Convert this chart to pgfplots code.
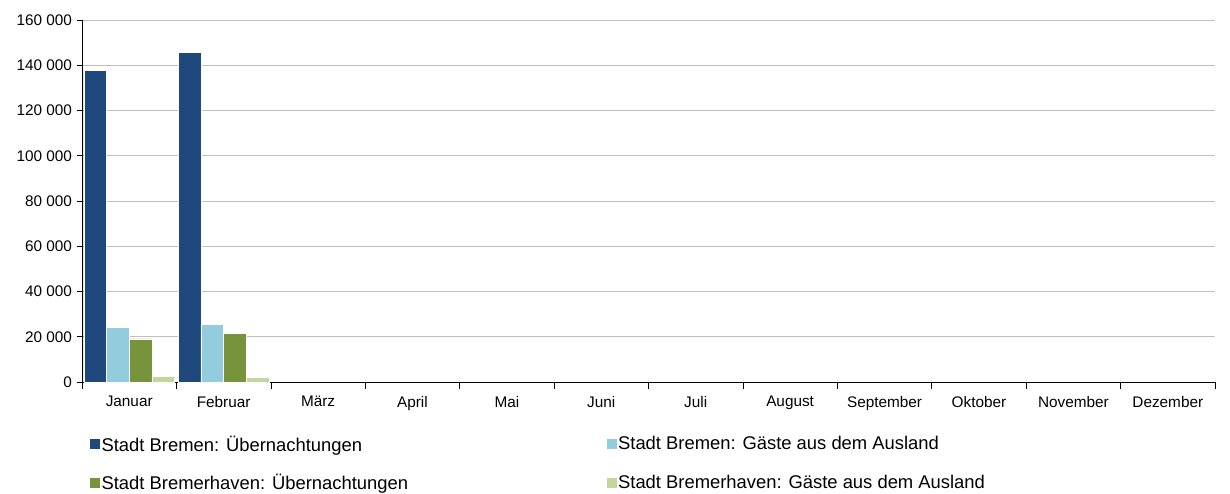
\documentclass[border=0pt]{standalone}
\usepackage{pgfplots}
\pgfplotsset{compat=1.18}
\usepackage{fontspec}
\setmainfont{Liberation Sans}
\definecolor{c1}{HTML}{1F497D}
\definecolor{c2}{HTML}{93CDDD}
\definecolor{c3}{HTML}{77933C}
\definecolor{c4}{HTML}{C3D69B}
\begin{document}
\begin{tikzpicture}
\begin{axis}[name=ax,
  scale only axis, width=849.75pt, height=271.5pt,
  ybar=0pt, bar width=17pt,
  xmin=-0.5, xmax=11.5, ymin=0, ymax=160000,
  scaled y ticks=false,
  xtick={0,...,11},
  xticklabels={Januar,Februar,März,April,Mai,Juni,Juli,August,September,Oktober,November,Dezember},
  major x tick style={draw=none},
  minor xtick={-0.5,0.5,...,11.5},
  minor tick length=5pt,
  ytick={0,20000,...,160000},
  yticklabels={0,20 000,40 000,60 000,80 000,100 000,120 000,140 000,160 000},
  major tick length=4pt,
  tick align=outside,
  tick style={black, thin},
  axis lines*=left,
  axis line style={black, thin},
  ymajorgrids, grid style={color=black!25, line width=0.6pt},
  ticklabel style={font=\fontsize{11.5pt}{13pt}\selectfont},
  xticklabel style={yshift=-3pt},
  /pgf/number format/assume math mode=true,
  legend columns=2,
  legend style={at={(0,0)}, anchor=north west, xshift=6pt, yshift=-39pt,
    draw=none, fill=none, font=\fontsize{13.8pt}{16pt}\selectfont,
    row sep=14pt, inner sep=0pt,
    /tikz/column 2/.style={column sep=148pt},
    nodes={inner sep=1pt}},
  legend image code/.code={\path[#1, draw=none] (0pt,-3.75pt) rectangle (7.5pt,3.75pt);},
  legend cell align=left,
]
\addplot[fill=c1, draw=white, line width=0.3pt] coordinates {(0,137900) (1,145700)};
\addplot[fill=c2, draw=white, line width=0.3pt] coordinates {(0,24200) (1,25600)};
\addplot[fill=c3, draw=white, line width=0.3pt] coordinates {(0,19100) (1,21500)};
\addplot[fill=c4, draw=white, line width=0.3pt] coordinates {(0,2500) (1,2200)};
\legend{Stadt Bremen: Übernachtungen, Stadt Bremen: Gäste aus dem Ausland, Stadt Bremerhaven: Übernachtungen, Stadt Bremerhaven: Gäste aus dem Ausland}
\end{axis}
\path (ax.south west) ++(-61.5pt,-81.75pt) coordinate (bl);
\path (ax.north east) ++(11.25pt,15pt) coordinate (tr);
\path (bl) (tr);
\end{tikzpicture}
\end{document}
